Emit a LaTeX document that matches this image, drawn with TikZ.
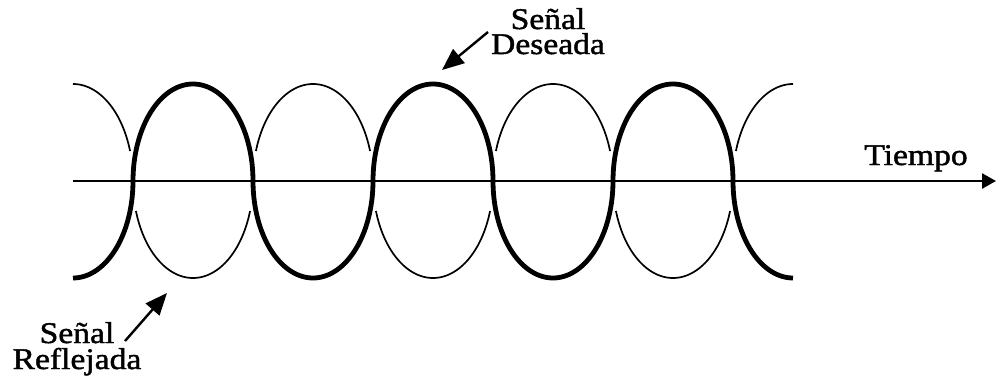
\documentclass[tikz,border=0pt]{standalone}
\usepackage{fontspec}
\setmainfont{Liberation Serif}[FakeStretch=1.12,FakeBold=1.4]
\usetikzlibrary{arrows.meta}
\begin{document}
\begin{tikzpicture}[x=1pt,y=-1pt,
  thickc/.style={line width=4.8pt, line join=round},
  thinc/.style={line width=1.7pt},
  axisline/.style={line width=2.6pt,-{Triangle[length=14pt,width=15pt]}},
  pointer/.style={line width=2.4pt,-{Triangle[length=22pt,width=18pt]}},
  lbl/.style={inner sep=0pt, align=center}]
\useasboundingbox (0,0) rectangle (996,377);
% desired signal (thick)
\draw[thickc]
  plot[domain=90:0,samples=40] ({73+60*cos(\x)},{181+97*sin(\x)})
  -- plot[domain=180:360,samples=80] ({193+60*cos(\x)},{181+97*sin(\x)})
  -- plot[domain=180:0,samples=80] ({313+60*cos(\x)},{181+97*sin(\x)})
  -- plot[domain=180:360,samples=80] ({433+60*cos(\x)},{181+97*sin(\x)})
  -- plot[domain=180:0,samples=80] ({553+60*cos(\x)},{181+97*sin(\x)})
  -- plot[domain=180:360,samples=80] ({673+60*cos(\x)},{181+97*sin(\x)})
  -- plot[domain=180:90,samples=40] ({793+60*cos(\x)},{181+97*sin(\x)});
% reflected signal (thin)
\draw[thinc] plot[domain=270:342,samples=40] ({73+60*cos(\x)},{181+97*sin(\x)});
\draw[thinc] plot[domain=18:162,samples=80] ({193+60*cos(\x)},{181+97*sin(\x)});
\draw[thinc] plot[domain=198:342,samples=80] ({313+60*cos(\x)},{181+97*sin(\x)});
\draw[thinc] plot[domain=18:162,samples=80] ({433+60*cos(\x)},{181+97*sin(\x)});
\draw[thinc] plot[domain=198:342,samples=80] ({553+60*cos(\x)},{181+97*sin(\x)});
\draw[thinc] plot[domain=18:162,samples=80] ({673+60*cos(\x)},{181+97*sin(\x)});
\draw[thinc] plot[domain=198:270,samples=40] ({793+60*cos(\x)},{181+97*sin(\x)});
% time axis
\coordinate (ax0) at (73,181);
\coordinate (ax1) at (996,181);
\draw[axisline] (ax0) -- (ax1);
% labels
\node[lbl, anchor=base, font=\fontsize{30}{30}\selectfont] (tiempo) at (916,165) {Tiempo};
\node[lbl, anchor=north, font=\fontsize{30}{25}\selectfont] (sd) at (548,8) {Señal\\Deseada};
\node[lbl, anchor=north, font=\fontsize{30}{26}\selectfont] (sr) at (77,322) {Señal\\Reflejada};
% pointers
\coordinate (dtail) at (488,32);
\coordinate (dtip) at (442,70);
\draw[pointer] (dtail) -- (dtip);
\coordinate (rtail) at (125,341);
\coordinate (rtip) at (167,293);
\draw[pointer] (rtail) -- (rtip);
\end{tikzpicture}
\end{document}
